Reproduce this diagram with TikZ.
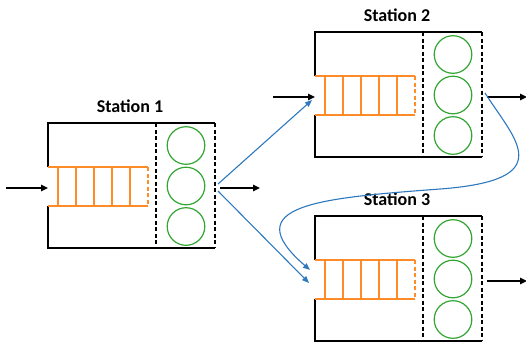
\documentclass[tikz,border=0pt]{standalone}
\usepackage{fontspec}
\setmainfont{Carlito}
\usetikzlibrary{arrows.meta}
\definecolor{qorange}{RGB}{255,140,40}
\definecolor{sgreen}{RGB}{50,165,50}
\definecolor{fblue}{RGB}{46,120,190}
\tikzset{
  boxline/.style={black,line width=2pt},
  divline/.style={black,line width=1.2pt,dash pattern=on 4pt off 2.5pt},
  queueline/.style={qorange,line width=1.4pt},
  queuedash/.style={qorange,line width=1.4pt,dash pattern=on 4pt off 2.5pt},
  server/.style={circle,draw=sgreen,line width=1.2pt,minimum size=37.6pt,inner sep=0pt},
  title/.style={font=\fontsize{18}{20}\selectfont\bfseries,inner sep=0pt},
  blackarrow/.style={black,line width=1.5pt,-{Triangle[length=7pt,width=6.5pt]}},
  bluearrow/.style={fblue,line width=1.1pt,-{Triangle[length=7pt,width=5.5pt]}},
}
\newcommand{\drawstation}[4]{%
\begin{scope}[shift={(#2,#3)}]
  \node[title] (#1title) at (82,-17) {#4};
  \draw[boxline] (0,44) -- (0,0) -- (167,0);
  \draw[boxline] (0,83) -- (0,125) -- (167,125);
  \draw[divline] (108,0) -- (108,125);
  \draw[divline] (167,0) -- (167,125);
  \draw[queueline] (0,44) -- (100,44) (0,83) -- (100,83);
  \foreach \qx in {10,28,46,64,82} {\draw[queueline] (\qx,44) -- (\qx,83);}
  \draw[queuedash] (100,44) -- (100,83);
  \node[server] (#1ca) at (138,22.5) {};
  \node[server] (#1cb) at (138,63) {};
  \node[server] (#1cc) at (138,103.5) {};
  \coordinate (#1src) at (-42,65);
  \coordinate (#1in) at (0,65);
  \coordinate (#1out) at (172,65);
  \coordinate (#1dst) at (212,65);
  \coordinate (#1outa) at (170,61);
  \coordinate (#1outb) at (170,68);
  \coordinate (#1ina) at (-3,68);
  \coordinate (#1inb) at (-5,54);
  \coordinate (#1inc) at (-6,67);
\end{scope}}
\begin{document}
\begin{tikzpicture}[x=1pt,y=-1pt]
\useasboundingbox (0,0) rectangle (526,341);
\drawstation{sa}{48}{123}{Station 1}
\drawstation{sb}{315}{32}{Station 2}
\drawstation{sc}{315}{216}{Station 3}
\draw[blackarrow] (sasrc) -- (sain);
\draw[blackarrow] (saout) -- (sadst);
\draw[blackarrow] (sbsrc) -- (sbin);
\draw[blackarrow] (sbout) -- (sbdst);
\draw[blackarrow] (scout) -- (scdst);
\draw[bluearrow] (saouta) -- (sbina);
\draw[bluearrow] (saoutb) -- (scinc);
\coordinate (bend) at (440,189);
\draw[bluearrow] (sbouta) .. controls (515,140) and (560,180) .. (bend)
  .. controls (320,198) and (235,205) .. (scinb);
\end{tikzpicture}
\end{document}
